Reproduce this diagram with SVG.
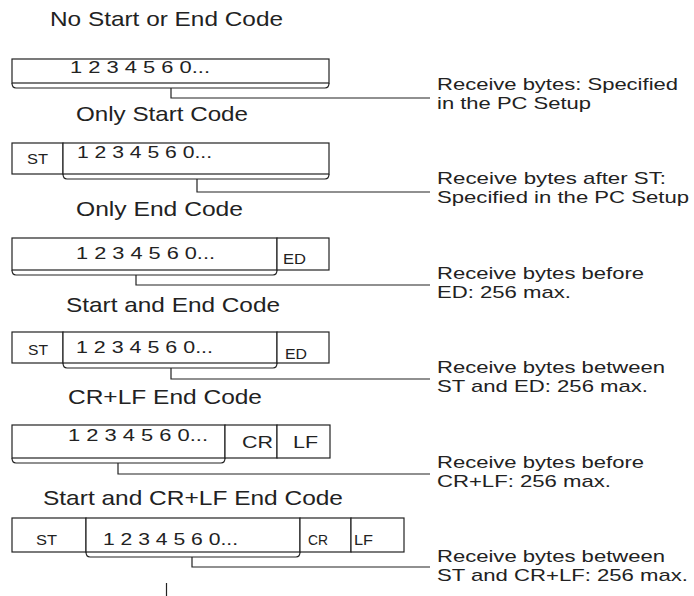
<svg xmlns="http://www.w3.org/2000/svg" width="694" height="596" viewBox="0 0 694 596">
<style>
.bx{fill:#fff;stroke:#222;stroke-width:1.2}
.cn{fill:none;stroke:#222;stroke-width:1.2}
text{font-family:"Liberation Sans",Arial,sans-serif;fill:#222}
.t{font-size:21px}
.l{font-size:17px}
.d{font-size:16.5px}
.c{font-size:14.5px}
</style>
<rect width="694" height="596" fill="#fff"/>
<g id="sec1">
<text class="t" x="50" y="26" textLength="233" lengthAdjust="spacingAndGlyphs">No Start or End Code</text>
<rect class="bx" x="12" y="59" width="317" height="24"/>
<text class="d" x="70" y="73" textLength="140" lengthAdjust="spacingAndGlyphs">1 2 3 4 5 6 0...</text>
</g>
<g id="sec2">
<text class="t" x="76" y="121" textLength="172" lengthAdjust="spacingAndGlyphs">Only Start Code</text>
<rect class="bx" x="12" y="143" width="51" height="31"/>
<rect class="bx" x="63" y="143" width="266" height="31"/>
<text class="c" x="27" y="164" textLength="21" lengthAdjust="spacingAndGlyphs">ST</text>
<text class="d" x="77" y="158" textLength="135" lengthAdjust="spacingAndGlyphs">1 2 3 4 5 6 0...</text>
</g>
<g id="sec3">
<text class="t" x="76" y="216" textLength="167" lengthAdjust="spacingAndGlyphs">Only End Code</text>
<rect class="bx" x="12" y="238" width="265" height="32"/>
<rect class="bx" x="277" y="238" width="52" height="32"/>
<text class="d" x="76" y="259" textLength="139" lengthAdjust="spacingAndGlyphs">1 2 3 4 5 6 0...</text>
<text class="c" x="283" y="264" textLength="23" lengthAdjust="spacingAndGlyphs">ED</text>
</g>
<g id="sec4">
<text class="t" x="66" y="312" textLength="214" lengthAdjust="spacingAndGlyphs">Start and End Code</text>
<rect class="bx" x="12" y="332" width="51" height="31"/>
<rect class="bx" x="63" y="332" width="214" height="31"/>
<rect class="bx" x="277" y="332" width="52" height="31"/>
<text class="c" x="28" y="355" textLength="20" lengthAdjust="spacingAndGlyphs">ST</text>
<text class="d" x="76" y="353" textLength="137" lengthAdjust="spacingAndGlyphs">1 2 3 4 5 6 0...</text>
<text class="c" x="285" y="359" textLength="22" lengthAdjust="spacingAndGlyphs">ED</text>
</g>
<g id="sec5">
<text class="t" x="68" y="404" textLength="194" lengthAdjust="spacingAndGlyphs">CR+LF End Code</text>
<rect class="bx" x="12" y="425" width="213" height="33"/>
<rect class="bx" x="225" y="425" width="52" height="33"/>
<rect class="bx" x="277" y="425" width="53" height="33"/>
<text class="d" x="68" y="441" textLength="140" lengthAdjust="spacingAndGlyphs">1 2 3 4 5 6 0...</text>
<text class="d" x="242" y="448" textLength="31" lengthAdjust="spacingAndGlyphs">CR</text>
<text class="d" x="293" y="448" textLength="25" lengthAdjust="spacingAndGlyphs">LF</text>
</g>
<g id="sec6">
<text class="t" x="43" y="505" textLength="300" lengthAdjust="spacingAndGlyphs">Start and CR+LF End Code</text>
<rect class="bx" x="12" y="518" width="74" height="34"/>
<rect class="bx" x="86" y="518" width="214" height="34"/>
<rect class="bx" x="300" y="518" width="51" height="34"/>
<rect class="bx" x="351" y="518" width="53" height="34"/>
<text class="c" x="36" y="545" textLength="21" lengthAdjust="spacingAndGlyphs">ST</text>
<text class="d" x="103" y="545" textLength="135" lengthAdjust="spacingAndGlyphs">1 2 3 4 5 6 0...</text>
<text class="c" x="308" y="545" textLength="20" lengthAdjust="spacingAndGlyphs">CR</text>
<text class="c" x="354" y="545" textLength="19" lengthAdjust="spacingAndGlyphs">LF</text>
</g>
<g id="connectors">
<path class="cn" d="M12,83 Q12,88 16,88 H325 Q329,88 329,83 M171,88 V98 H430"/>
<path class="cn" d="M63,174 Q63,179 67,179 H325 Q329,179 329,174 M197,179 V192 H430"/>
<path class="cn" d="M12,270 Q12,275 16,275 H273 Q277,275 277,270 M136,275 V285 H430"/>
<path class="cn" d="M63,363 Q63,368 67,368 H273 Q277,368 277,363 M171,368 V379 H430"/>
<path class="cn" d="M12,458 Q12,463 16,463 H221 Q225,463 225,458 M118,463 V474 H430"/>
<path class="cn" d="M86,552 Q86,557 90,557 H296 Q300,557 300,552 M192,557 V567 H430"/>
<line class="cn" x1="166.5" y1="583" x2="166.5" y2="596"/>
</g>
<g id="labels">
<text class="l" x="437" y="90" textLength="241" lengthAdjust="spacingAndGlyphs">Receive bytes: Specified</text>
<text class="l" x="437" y="109" textLength="154" lengthAdjust="spacingAndGlyphs">in the PC Setup</text>
<text class="l" x="437" y="184" textLength="229" lengthAdjust="spacingAndGlyphs">Receive bytes after ST:</text>
<text class="l" x="437" y="203" textLength="252" lengthAdjust="spacingAndGlyphs">Specified in the PC Setup</text>
<text class="l" x="437" y="279" textLength="207" lengthAdjust="spacingAndGlyphs">Receive bytes before</text>
<text class="l" x="437" y="298" textLength="134" lengthAdjust="spacingAndGlyphs">ED: 256 max.</text>
<text class="l" x="437" y="373" textLength="228" lengthAdjust="spacingAndGlyphs">Receive bytes between</text>
<text class="l" x="437" y="392" textLength="211" lengthAdjust="spacingAndGlyphs">ST and ED: 256 max.</text>
<text class="l" x="437" y="468" textLength="207" lengthAdjust="spacingAndGlyphs">Receive bytes before</text>
<text class="l" x="437" y="487" textLength="174" lengthAdjust="spacingAndGlyphs">CR+LF: 256 max.</text>
<text class="l" x="437" y="562" textLength="228" lengthAdjust="spacingAndGlyphs">Receive bytes between</text>
<text class="l" x="437" y="581" textLength="251" lengthAdjust="spacingAndGlyphs">ST and CR+LF: 256 max.</text>
</g>
</svg>
